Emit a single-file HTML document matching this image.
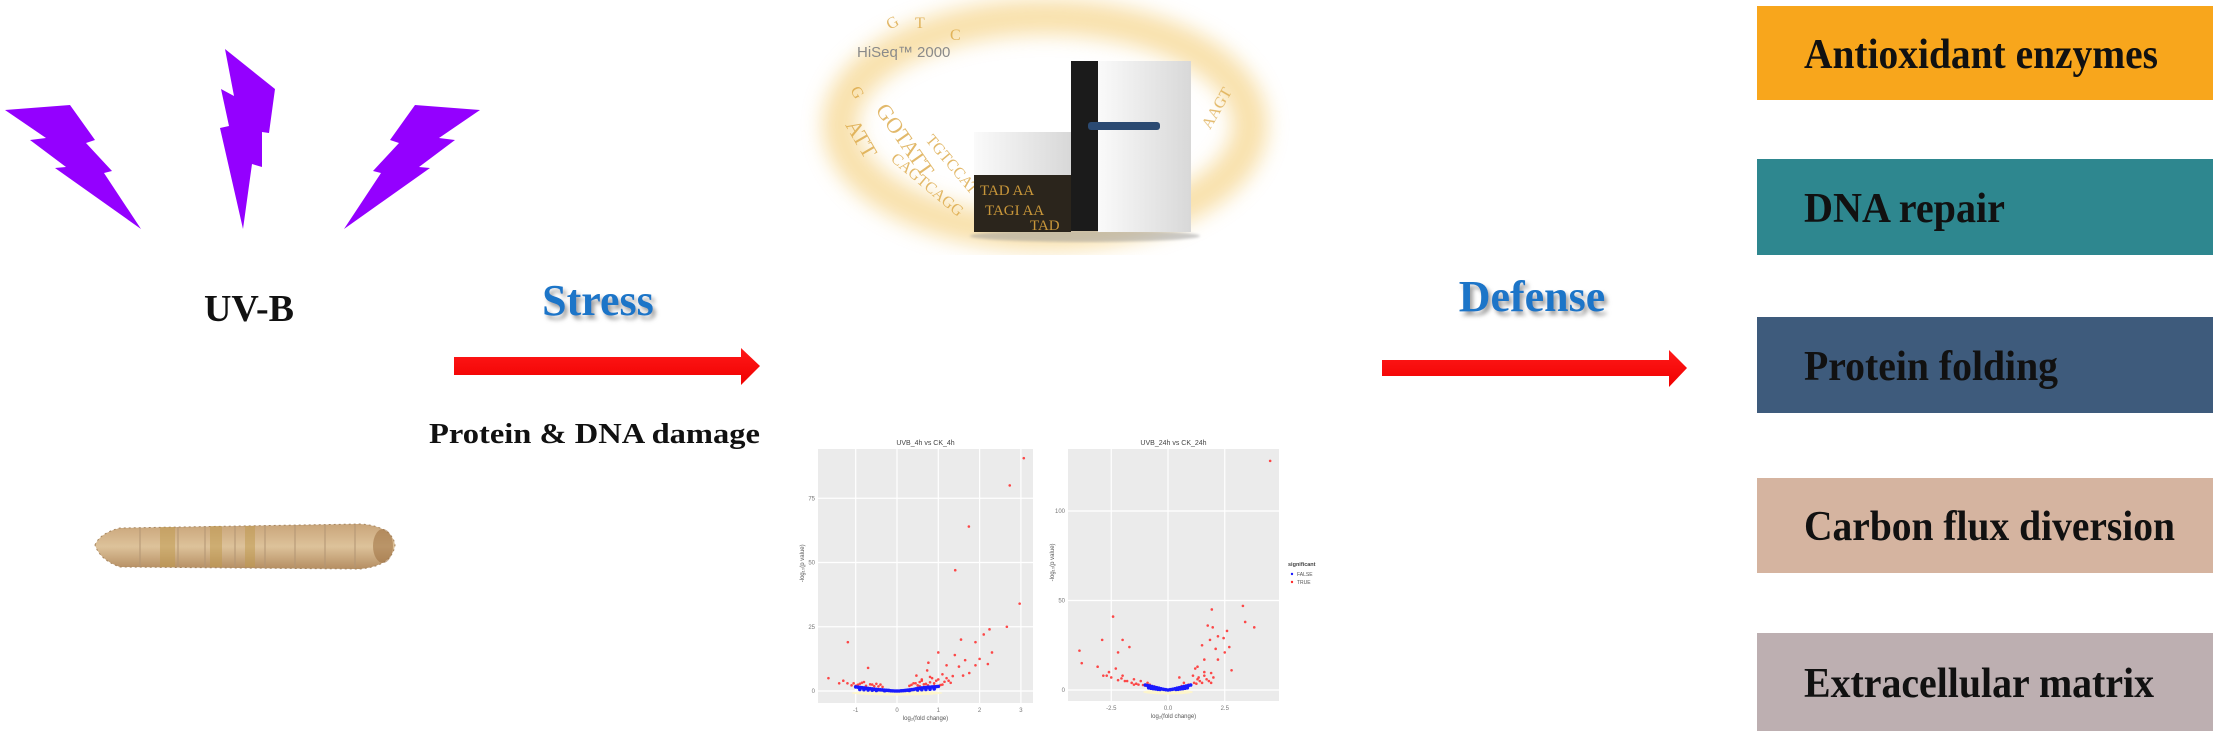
<!DOCTYPE html>
<html><head><meta charset="utf-8"><title>UV-B stress graphical abstract</title>
<style>
html,body{margin:0;padding:0;background:#fff;}
svg{display:block;}
text{font-family:"Liberation Serif",serif;}
.sm{font-family:"Liberation Sans",sans-serif;}
</style></head>
<body>
<svg id="root" width="2213" height="731" viewBox="0 0 2213 731" xmlns="http://www.w3.org/2000/svg">
<defs>
  <filter id="blur8"><feGaussianBlur stdDeviation="10"/></filter>
  <filter id="blur2"><feGaussianBlur stdDeviation="1.2"/></filter>
  <filter id="shadow"><feDropShadow dx="3" dy="4" stdDeviation="2" flood-color="#777" flood-opacity="0.7"/></filter>
  <linearGradient id="larvaG" x1="0" y1="0" x2="0" y2="1">
    <stop offset="0" stop-color="#c9a57a"/><stop offset="0.5" stop-color="#ddc29a"/><stop offset="1" stop-color="#b58e62"/>
  </linearGradient>
  <linearGradient id="whiteG" x1="0" y1="0" x2="1" y2="0">
    <stop offset="0" stop-color="#fafafa"/><stop offset="1" stop-color="#d8d8d8"/>
  </linearGradient>
  <linearGradient id="redArrow" x1="0" y1="0" x2="0" y2="1">
    <stop offset="0" stop-color="#ff1a1a"/><stop offset="1" stop-color="#f00000"/>
  </linearGradient>
</defs>

<g fill="#9400ff">
  <polygon points="5,110 70,105 95,140 86,143 112,171 104,173 141,229 55,168 66,167 30,140 46,138"/>
  <polygon points="225,49 275,89 269,133 262,132 262,167 252,164 243,229 220,128 229,126 221,89 234,96"/>
  <polygon points="480,110 415,105 390,140 399,143 373,171 381,173 344,229 430,168 419,167 455,140 439,138"/>
</g>
<text x="249" y="321" font-size="38" font-weight="bold" text-anchor="middle" fill="#111">UV-B</text>

<g>
  <path d="M95,545 Q100,533 120,528 L360,524 Q392,526 395,545 Q392,566 360,569 L120,567 Q100,560 95,545 Z" fill="url(#larvaG)" stroke="#a88760" stroke-width="1" stroke-dasharray="2 3"/>
  <g fill="#c09a4c" opacity="0.5">
    <rect x="160" y="527" width="15" height="40"/><rect x="210" y="526" width="12" height="41"/><rect x="245" y="526" width="10" height="41"/>
  </g>
  <g stroke="#b39675" stroke-width="2" opacity="0.5">
    <line x1="140" y1="528" x2="140" y2="566"/><line x1="178" y1="527" x2="178" y2="567"/><line x1="205" y1="526" x2="205" y2="567"/><line x1="235" y1="526" x2="235" y2="567"/><line x1="265" y1="525" x2="265" y2="568"/><line x1="295" y1="525" x2="295" y2="568"/><line x1="325" y1="525" x2="325" y2="568"/><line x1="355" y1="525" x2="355" y2="568"/>
  </g>
  <ellipse cx="383" cy="546" rx="10" ry="17" fill="#9c7040" opacity="0.55"/>
</g>

<text x="598" y="315" font-size="44" font-weight="bold" text-anchor="middle" fill="#1b74c8" filter="url(#shadow)">Stress</text>
<polygon points="454,357 741,357 741,348 760,366 741,385 741,375 454,375" fill="url(#redArrow)"/>
<text x="429" y="443" font-size="29" font-weight="bold" fill="#111" textLength="331" lengthAdjust="spacingAndGlyphs">Protein &amp; DNA damage</text>

<g>
  <ellipse cx="1045" cy="125" rx="205" ry="108" fill="none" stroke="#f2c35a" stroke-width="35" opacity="0.5" filter="url(#blur8)"/>
  <g fill="#d9a23a" opacity="0.75" font-family="Liberation Sans,sans-serif" font-size="16">
    <text x="890" y="30" transform="rotate(-30 890 30)">G</text>
    <text x="915" y="28">T</text><text x="950" y="40">C</text>
    <text x="850" y="90" transform="rotate(60 850 90)">G</text>
    <text x="845" y="125" font-size="22" transform="rotate(60 845 125)">ATT</text>
    <text x="875" y="110" font-size="22" transform="rotate(55 875 110)">GOTATT</text>
    <text x="890" y="160" transform="rotate(40 890 160)">CAGTCAGG</text>
    <text x="925" y="140" transform="rotate(50 925 140)">TGTCCAT</text>
    <text x="1210" y="130" transform="rotate(-60 1210 130)">AAGT</text>
  </g>
  <text class="sm" x="857" y="57" font-size="15" fill="#8a8a8a">HiSeq™ 2000</text>
  <ellipse cx="1085" cy="236" rx="115" ry="6" fill="#999" opacity="0.5" filter="url(#blur2)"/>
  <rect x="1098" y="61" width="93" height="171" fill="url(#whiteG)"/>
  <rect x="974" y="132" width="97" height="100" fill="url(#whiteG)"/>
  <rect x="974" y="175" width="97" height="57" fill="#2b251c"/>
  <g fill="#c9973a" font-family="Liberation Sans,sans-serif" font-size="15">
    <text x="980" y="195">TAD AA</text><text x="985" y="215">TAGI AA</text><text x="1030" y="230">TAD</text>
  </g>
  <rect x="1071" y="61" width="27" height="170" fill="#1b1b1b"/>
  <rect x="1088" y="122" width="72" height="8" rx="3" fill="#2b4a72"/>
</g>

<g id="plots"></g>

<text x="1532" y="311" font-size="44" font-weight="bold" text-anchor="middle" fill="#1b74c8" filter="url(#shadow)">Defense</text>
<polygon points="1382,360 1669,360 1669,350 1687,368 1669,387 1669,376 1382,376" fill="url(#redArrow)"/>

<g font-weight="bold" font-size="42" fill="#111">
  <rect x="1757" y="6" width="456" height="94" fill="#f8a61c"/>
  <text x="1804" y="68" textLength="354" lengthAdjust="spacingAndGlyphs">Antioxidant enzymes</text>
  <rect x="1757" y="159" width="456" height="96" fill="#2e878f"/>
  <text x="1804" y="222" textLength="201" lengthAdjust="spacingAndGlyphs">DNA repair</text>
  <rect x="1757" y="317" width="456" height="96" fill="#3e5b7c"/>
  <text x="1804" y="380" textLength="254" lengthAdjust="spacingAndGlyphs">Protein folding</text>
  <rect x="1757" y="478" width="456" height="95" fill="#d5b4a0"/>
  <text x="1804" y="540" textLength="371" lengthAdjust="spacingAndGlyphs">Carbon flux diversion</text>
  <rect x="1757" y="633" width="456" height="98" fill="#bdafb1"/>
  <text x="1804" y="697" textLength="350" lengthAdjust="spacingAndGlyphs">Extracellular matrix</text>
</g>
</svg>

<script>
// Plot 1: UVB_4h vs CK_4h
const p1RedX = [3.07,2.73,1.74,1.41,2.97,2.66,2.24,2.1,1.55,1.9,-1.19,-0.7,-1.66,1.0,1.4,2.3,2.0,1.65,0.76,1.2,1.5,1.9,2.2,1.75,0.73,0.47,1.1,1.35,-1.2,-1.0,-0.8,-0.4,0.4,0.6,0.9,1.1,-1.4,-0.6,0.3,0.55,0.85,1.25,1.6,-0.9,0.5,0.7,1.0,1.3,-1.1,-1.05,-0.95,-0.85,-0.75,-0.65,-0.55,-0.5,-0.45,0.35,0.45,0.55,0.65,0.75,0.8,0.9,0.95,1.05,1.15,-1.3,-0.35,0.6,0.8,1.2];
const p1RedY = [90.6,80,64,47,34,25,24,22,20,19,19,9,5,15,14,15,12.5,12,11,10,9.5,10,10.5,7,8,6,6.5,5.8,3,2,3.5,2.5,3,4,3,2.5,3,2.5,2,3.5,5,4,6,2.8,2.2,2.8,4.5,3.2,2.2,3.0,2.4,3.2,2.0,2.6,1.9,2.8,1.8,2.4,3.0,1.9,2.6,2.2,3.4,2.0,4.0,2.3,3.6,4.0,1.6,4.5,5.5,5.0];
const p1BlueX = [-1.0,-0.95,-0.9,-0.85,-0.8,-0.75,-0.7,-0.65,-0.6,-0.55,-0.5,-0.45,-0.4,-0.35,-0.3,-0.25,-0.2,-0.15,-0.1,-0.05,0.0,0.05,0.1,0.15,0.2,0.25,0.3,0.35,0.4,0.45,0.5,0.55,0.6,0.65,0.7,0.75,0.8,0.85,0.9,0.95,1.0,-0.9,-0.7,-0.5,-0.3,0.3,0.5,0.7,0.9,-0.8,-0.6,0.6,0.8];
const p1BlueY = [1.6,1.5,1.4,1.3,1.2,1.1,1.0,0.9,0.8,0.7,0.6,0.5,0.45,0.4,0.3,0.25,0.2,0.1,0.05,0.0,0.0,0.0,0.1,0.15,0.2,0.3,0.4,0.5,0.6,0.8,1.0,1.1,1.2,1.3,1.4,1.5,1.5,1.6,1.6,1.7,1.8,0.6,0.4,0.2,0.1,0.2,0.4,0.6,0.8,0.5,0.3,0.5,0.7];
const p1XTicks = [-1,0,1,2,3];
const p1YTicks = [0,25,50,75];

// Plot 2: UVB_24h vs CK_24h
const p2RedX = [4.5,3.3,1.93,-2.42,3.4,3.8,1.75,1.97,2.6,2.45,2.2,-2.9,-2.0,1.85,1.5,-1.7,-3.9,-2.2,2.1,2.5,2.7,-3.8,-3.1,-2.3,2.8,2.2,1.6,1.3,1.9,-2.85,-2.0,-1.5,-0.9,0.7,1.3,1.9,1.1,0.5,-1.5,-0.6,-2.6,-1.2,-0.8,0.9,1.6,2.0,-1.9,1.2,-2.5,-2.2,-1.8,-1.6,-1.4,-1.3,-1.1,-1.0,0.8,1.0,1.15,1.25,1.4,1.5,1.7,1.8,-2.7,-2.05,1.35,1.6,0.6,-0.7];
const p2RedY = [128,47,45,41,38,35,36,35,33,29,30,28,28,28,25,24,22,21,23,21,24,15,13,12,11,17,17,13,9.5,8,8,6,4,4,6,4,8,7,3,2,10,5,3,3,10,7,5,12,7,5.5,5,4,3.5,3,2.8,2.5,2.5,3,4,3.5,5,4,6,5,8,6.5,7,8,2.2,1.8];
const p2BlueX = [-1.0,-0.9,-0.8,-0.7,-0.6,-0.5,-0.4,-0.3,-0.2,-0.1,0.0,0.1,0.2,0.3,0.4,0.5,0.6,0.7,0.8,0.9,1.0,-0.85,-0.75,-0.65,-0.55,-0.45,-0.35,0.35,0.45,0.55,0.65,0.75,0.85];
const p2BlueY = [2.8,2.5,2.2,1.9,1.6,1.3,1.0,0.7,0.4,0.2,0.0,0.2,0.4,0.7,1.0,1.3,1.6,1.9,2.2,2.5,2.8,1.2,1.0,0.8,0.6,0.4,0.3,0.3,0.4,0.6,0.8,1.0,1.2];
const p2XTicks = [-2.5,0,2.5];
const p2XTickLabels = ["-2.5","0.0","2.5"];
const p2YTicks = [0,50,100];

const NS = "http://www.w3.org/2000/svg";
const host = document.getElementById("plots");
function mk(tag, attrs, parent){const e=document.createElementNS(NS,tag);for(const k in attrs)e.setAttribute(k,attrs[k]);(parent||host).appendChild(e);return e;}

function drawPlot(cfg){
  const g = mk("g",{});
  
  
  const sx = v => cfg.x0 + (v - cfg.xv0) * cfg.xs;
  const sy = v => cfg.y0 - (v - cfg.yv0) * cfg.ys;
  const panel = mk("rect",{x:cfg.px,y:cfg.py,width:cfg.pw,height:cfg.ph,fill:"#ebebeb"},g);
  
  
  cfg.xt.forEach((t,i)=>{
    const x=sx(t);
    mk("line",{x1:x,y1:cfg.py,x2:x,y2:cfg.py+cfg.ph,stroke:"#fff","stroke-width":1.2},g);
    const lb=mk("text",{x:x,y:cfg.py+cfg.ph+9,"font-size":6,fill:"#777","text-anchor":"middle",class:"sm"},g);
    lb.textContent = cfg.xl ? cfg.xl[i] : String(t);
    
    
  });
  cfg.yt.forEach(t=>{
    const y=sy(t);
    mk("line",{x1:cfg.px,y1:y,x2:cfg.px+cfg.pw,y2:y,stroke:"#fff","stroke-width":1.2},g);
    const lb=mk("text",{x:cfg.px-3,y:y+2,"font-size":6,fill:"#777","text-anchor":"end",class:"sm"},g);
    lb.textContent = String(t);
    
    
  });
  const ti=mk("text",{x:cfg.px+cfg.pw/2,y:cfg.py-4,"font-size":7,fill:"#444","text-anchor":"middle",class:"sm"},g);
  ti.textContent=cfg.title;
  
  
  const xa=mk("text",{x:cfg.px+cfg.pw/2,y:cfg.py+cfg.ph+17,"font-size":6,fill:"#555","text-anchor":"middle",class:"sm"},g);
  xa.textContent="log\u2082(fold change)";
  
  
  const yx=cfg.px-14, yy=cfg.py+cfg.ph*0.45;
  const ya=mk("text",{x:yx,y:yy,"font-size":6,fill:"#555","text-anchor":"middle",class:"sm",transform:`rotate(-90 ${yx} ${yy})`},g);
  ya.textContent="-log\u2081\u2080(p value)";
  
  
  mk("ellipse",{cx:sx(0),cy:sy(0)+2,rx:cfg.xs*1.1,ry:2.5,fill:"#fff6c8",opacity:0.9},g);
  cfg.rx.forEach((v,i)=>{
    const c=mk("circle",{cx:sx(v),cy:sy(cfg.ry[i]),r:1.3,fill:"#ff2a2a",opacity:0.85},g);
    
    
  });
  cfg.bx.forEach((v,i)=>{
    const c=mk("circle",{cx:sx(v),cy:sy(cfg.by[i]),r:1.8,fill:"#1a1aff"},g);
    
    
  });
}

drawPlot({name:"volcano-plot-4h",title:"UVB_4h vs CK_4h",px:818,py:449,pw:215,ph:254,
  x0:897,xv0:0,xs:41.3,y0:691,yv0:0,ys:2.57,xt:p1XTicks,yt:p1YTicks,
  rx:p1RedX,ry:p1RedY,bx:p1BlueX,by:p1BlueY});
drawPlot({name:"volcano-plot-24h",title:"UVB_24h vs CK_24h",px:1068,py:449,pw:211,ph:252,
  x0:1168,xv0:0,xs:22.7,y0:690,yv0:0,ys:1.79,xt:p2XTicks,xl:p2XTickLabels,yt:p2YTicks,
  rx:p2RedX,ry:p2RedY,bx:p2BlueX,by:p2BlueY});

const lg = mk("g",{});


const lt = mk("text",{x:1288,y:566,"font-size":5.5,fill:"#444",class:"sm","font-weight":"bold"},lg);
lt.textContent="significant";
const legLabels = ["FALSE","TRUE"];
const legColors = ["#1a1aff","#ff2a2a"];
legLabels.forEach((t,i)=>{
  const c=mk("circle",{cx:1292,cy:574+i*8,r:1.2,fill:legColors[i]},lg);
  
  
  const tx=mk("text",{x:1297,y:576+i*8,"font-size":5,fill:"#555",class:"sm"},lg);
  tx.textContent=t;
  
  
});
</script>
</body></html>
